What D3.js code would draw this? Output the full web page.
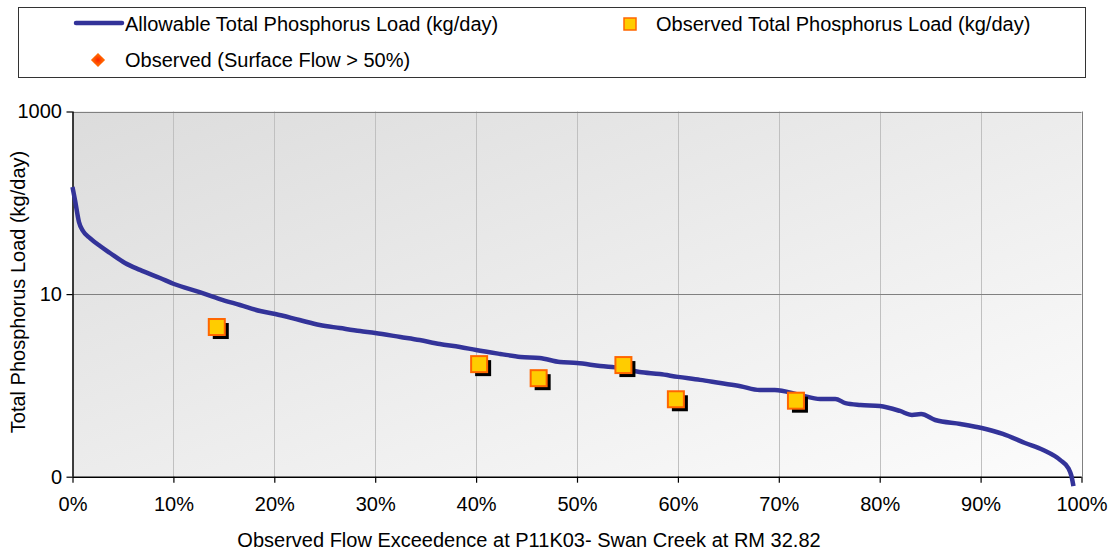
<!DOCTYPE html>
<html><head><meta charset="utf-8">
<script src="https://cdn.jsdelivr.net/npm/d3@7"></script>
<style>body{margin:0;background:#fff}svg{display:block;font-family:"Liberation Sans",Arial,sans-serif}</style>
</head><body><svg id="c" width="1110" height="550"></svg>
<script>
// Allowable load duration curve (percent exceedence, kg/day)
const curvePct = [0,0.25,0.64,1.04,1.73,2.73,3.72,5.2,6.69,8.67,10.06,12.6,14.6,16.6,18.6,20.1,22.5,24.5,26.5,28.5,30,32.5,34.4,36.4,38.4,40,42.4,44.4,46.3,48.3,50,52.3,54.3,56.2,58.2,60,62.2,64.2,66.2,68.1,69.6,72.1,74.1,75.6,76.6,78.1,80,82,83.2,84.1,85.5,88,90.1,92.2,94.4,96.2,97.9,98.7,99.0,99.2];
const curveLoad = [149,107,61.6,49.1,41.1,33.6,28.2,21.9,18.4,15.0,12.9,10.5,8.83,7.6,6.53,6.05,5.2,4.59,4.25,3.94,3.75,3.39,3.14,2.84,2.64,2.44,2.21,2.05,2.0,1.80,1.76,1.63,1.55,1.40,1.33,1.24,1.15,1.06,0.98,0.89,0.89,0.785,0.71,0.71,0.64,0.61,0.594,0.525,0.474,0.485,0.418,0.378,0.341,0.294,0.234,0.196,0.152,0.124,0.102,0.079];
// Observed loads
const obsPct = [14.3,40.3,46.2,54.6,59.8,71.7];
const obsLoad = [4.36,1.71,1.20,1.67,0.705,0.68];
// Observed surface flow > 50% (none plotted)
const surfPct = [];
const surfLoad = [];
// Ticks
const xTicks = [0,10,20,30,40,50,60,70,80,90,100];
const yTicks = [0.1,10,1000];
const yTickLabels = ["0","10","1000"];
const legendLabels = ["Allowable Total Phosphorus Load (kg/day)","Observed Total Phosphorus Load (kg/day)","Observed (Surface Flow > 50%)"];
const xTitle = "Observed Flow Exceedence at P11K03- Swan Creek at RM 32.82";
const yTitle = "Total Phosphorus Load (kg/day)";

const FS = 20;
const svg = d3.select("#c");
const L=72.5, R=1081.5, T=111.5, B=476.7;
const x = d3.scaleLinear().domain([0,100]).range([L,R]);
const y = d3.scaleLog().domain([0.1,1000]).range([B,T]);

const defs = svg.append("defs");
const g1 = defs.append("linearGradient").attr("id","bg").attr("x1","0").attr("y1","0").attr("x2","1").attr("y2","1");
g1.append("stop").attr("offset","0").attr("stop-color","#dcdcdc");
g1.append("stop").attr("offset","1").attr("stop-color","#fcfcfc");
const g2 = defs.append("radialGradient").attr("id","dia");
g2.append("stop").attr("offset","0").attr("stop-color","#ff2200");
g2.append("stop").attr("offset","1").attr("stop-color","#ff6600");

// plot area
svg.append("rect").attr("x",L).attr("y",T).attr("width",R-L).attr("height",B-T).attr("fill","url(#bg)");

// vertical gridlines
svg.append("g").selectAll("line").data(xTicks.slice(1)).join("line")
  .attr("x1",d=>Math.round(x(d))+0.5).attr("x2",d=>Math.round(x(d))+0.5)
  .attr("y1",T).attr("y2",B).attr("stroke",d=>d===100?"#808080":"#c0c0c0").attr("stroke-width",1);
// horizontal gridlines
svg.append("g").selectAll("line").data(yTicks.slice(1)).join("line")
  .attr("x1",L).attr("x2",R).attr("y1",d=>Math.round(y(d))+0.5).attr("y2",d=>Math.round(y(d))+0.5)
  .attr("stroke","#808080").attr("stroke-width",1);

// axes
const xAxis = d3.axisBottom(x).tickValues(xTicks).tickFormat(d=>d+"%").tickSize(6).tickPadding(14);
const gx = svg.append("g").attr("transform",`translate(0,${B})`).call(xAxis);
const yAxis = d3.axisLeft(y).tickValues(yTicks).tickFormat((d,i)=>yTickLabels[i]).tickSize(6).tickPadding(4.5);
const gy = svg.append("g").attr("transform",`translate(${L},0)`).call(yAxis);
[gx,gy].forEach(g=>{
  g.select(".domain").attr("stroke","#000").attr("stroke-width",1.5);
  g.selectAll(".tick line").attr("stroke","#000").attr("stroke-width",1.2);
  g.selectAll("text").attr("font-family","Liberation Sans, Arial, sans-serif").attr("font-size",FS).attr("fill","#000");
});
gx.select(".domain").attr("d",`M${L},0.5H${R}`);
gy.select(".domain").attr("d",`M0.5,${T}V${B}`);

// curve
const line = d3.line().x((d,i)=>x(curvePct[i])).y((d,i)=>y(curveLoad[i])).curve(d3.curveMonotoneX);
svg.append("path").datum(curveLoad).attr("d",line).attr("fill","none")
  .attr("stroke","#333399").attr("stroke-width",4.5).attr("stroke-linejoin","round");

// observed squares
const s=16;
const og = svg.append("g");
og.selectAll("rect.sh").data(obsLoad).join("rect").attr("class","sh")
  .attr("x",(d,i)=>x(obsPct[i])-s/2+4).attr("y",d=>y(d)-s/2+4).attr("width",s).attr("height",s).attr("fill","#000");
og.selectAll("rect.mk").data(obsLoad).join("rect").attr("class","mk")
  .attr("x",(d,i)=>x(obsPct[i])-s/2).attr("y",d=>y(d)-s/2).attr("width",s).attr("height",s)
  .attr("fill","#ffcc00").attr("stroke","#ff6600").attr("stroke-width",2);
svg.append("g").selectAll("rect").data(surfLoad).join("rect")
  .attr("x",-5).attr("y",-5).attr("width",10).attr("height",10)
  .attr("transform",(d,i)=>`translate(${x(surfPct[i])},${y(d)}) rotate(45)`).attr("fill","url(#dia)");

// titles
svg.append("text").attr("x",529).attr("y",547).attr("text-anchor","middle").attr("font-size",FS).text(xTitle);
svg.append("text").attr("transform",`translate(25,292) rotate(-90)`).attr("text-anchor","middle").attr("font-size",FS).text(yTitle);

// legend
svg.append("rect").attr("x",18.5).attr("y",7.5).attr("width",1067).attr("height",70).attr("fill","#fff").attr("stroke","#333").attr("stroke-width",1);
svg.append("line").attr("x1",76).attr("x2",122).attr("y1",23).attr("y2",23).attr("stroke","#333399").attr("stroke-width",4.5).attr("stroke-linecap","round");
svg.append("text").attr("x",125).attr("y",31).attr("font-size",FS).text(legendLabels[0]);
svg.append("rect").attr("x",624).attr("y",18).attr("width",12).attr("height",12).attr("fill","#ffcc00").attr("stroke","#ff6600").attr("stroke-width",1.5);
svg.append("text").attr("x",656).attr("y",31).attr("font-size",FS).text(legendLabels[1]);
svg.append("rect").attr("x",-5).attr("y",-5).attr("width",10).attr("height",10).attr("transform","translate(98,60) rotate(45)").attr("fill","url(#dia)");
svg.append("text").attr("x",125).attr("y",67).attr("font-size",FS).text(legendLabels[2]);
</script></body></html>
